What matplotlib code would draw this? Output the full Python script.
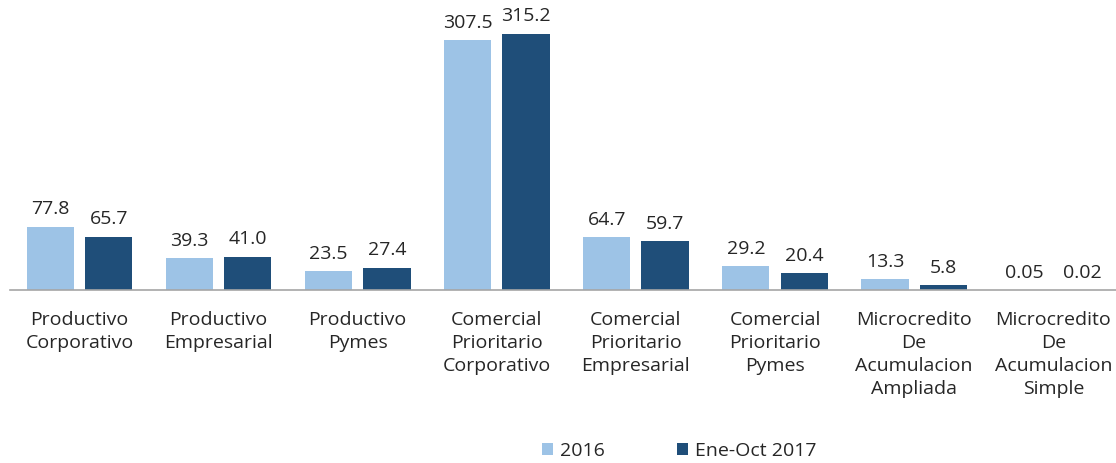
import matplotlib
matplotlib.use("Agg")
import matplotlib.pyplot as plt
import numpy as np

categories = ["Productivo\nCorporativo", "Productivo\nEmpresarial", "Productivo\nPymes",
              "Comercial\nPrioritario\nCorporativo", "Comercial\nPrioritario\nEmpresarial",
              "Comercial\nPrioritario\nPymes", "Microcredito\nDe\nAcumulacion\nAmpliada",
              "Microcredito\nDe\nAcumulacion\nSimple"]
values_2016 = [77.8, 39.3, 23.5, 307.5, 64.7, 29.2, 13.3, 0.05]
values_2017 = [65.7, 41.0, 27.4, 315.2, 59.7, 20.4, 5.8, 0.02]
labels_2016 = ["77.8", "39.3", "23.5", "307.5", "64.7", "29.2", "13.3", "0.05"]
labels_2017 = ["65.7", "41.0", "27.4", "315.2", "59.7", "20.4", "5.8", "0.02"]
series_names = ["2016", "Ene-Oct 2017"]

plt.rcParams['font.family'] = ['Open Sans', 'DejaVu Sans']

fig = plt.figure(figsize=(11.16, 4.63), dpi=100)
ax = fig.add_axes([10 / 1116, (463 - 290) / 463, 1 - 10 / 1116, 270 / 463])

x = np.arange(len(categories))
w = 0.34
off = 0.21
c1 = "#9DC3E6"
c2 = "#1F4E79"
tc = "#262626"
fs = 14
b1 = ax.bar(x - off, values_2016, w, color=c1, label=series_names[0])
b2 = ax.bar(x + off, values_2017, w, color=c2, label=series_names[1])

for xi, v, t in zip(x - off, values_2016, labels_2016):
    ax.annotate(t, (xi, v), xytext=(0, 6), textcoords="offset points",
                ha="center", va="bottom", fontsize=fs, color=tc)
for xi, v, t in zip(x + off, values_2017, labels_2017):
    ax.annotate(t, (xi, v), xytext=(0, 6), textcoords="offset points",
                ha="center", va="bottom", fontsize=fs, color=tc)

ax.set_xlim(-0.4996, 7.451)
ax.set_ylim(0, 332)
for s in ["top", "right", "left"]:
    ax.spines[s].set_visible(False)
ax.spines["bottom"].set_color("#A6A6A6")
ax.spines["bottom"].set_linewidth(1.2)
ax.set_yticks([])
ax.set_xticks(x)
ax.set_xticklabels(categories, fontsize=fs, color=tc, linespacing=1.36)
ax.tick_params(axis="x", length=0, pad=15)

fig.legend(handles=[b1, b2], labels=series_names, loc="center",
           bbox_to_anchor=(0.609, 1 - 451 / 463), ncol=2, frameon=False,
           fontsize=fs, handlelength=0.55, handleheight=0.55, columnspacing=3.7,
           handletextpad=0.38, labelcolor=tc)

fig.savefig("out.png", dpi=100)
